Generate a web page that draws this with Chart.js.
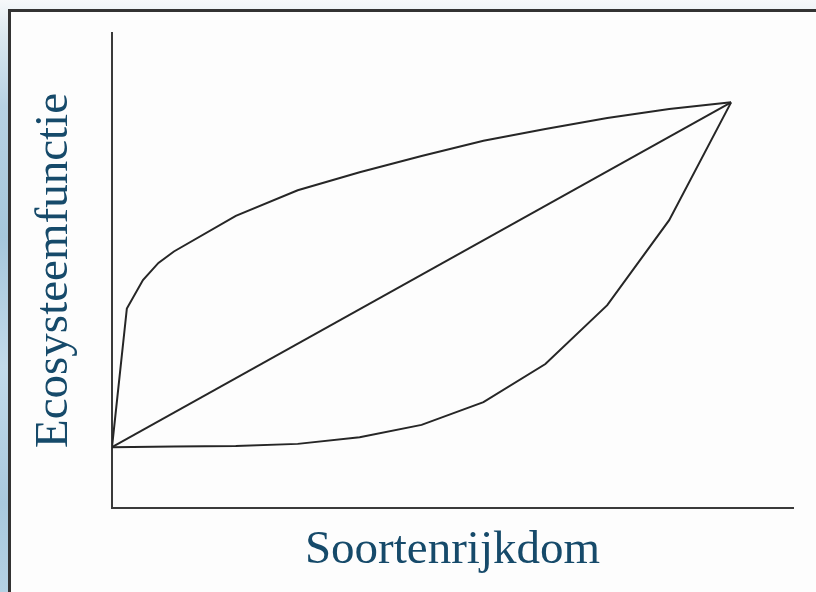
<!DOCTYPE html>
<html>
<head>
<meta charset="utf-8">
<script src="https://cdn.jsdelivr.net/npm/chart.js@4"></script>
<style>
  html, body { margin: 0; padding: 0; width: 816px; height: 592px; overflow: hidden; }
  body { background: linear-gradient(to bottom, #f6f8fa 0%, #dbe8f0 6%, #b7d2e3 18%, #a6c7db 40%, #c2daea 62%, #a9c9de 85%, #b4d1e3 100%); position: relative; }
  #frame { position: absolute; left: 8px; top: 9px; width: 900px; height: 700px; border-left: 3px solid #333; border-top: 3px solid #333; background: #fdfdfd; }
  #wrap { position: absolute; left: 0; top: 0; width: 816px; height: 592px; }
</style>
</head>
<body>
<div id="frame"></div>
<div id="wrap"><canvas id="c" width="816" height="592"></canvas></div>
<script>
// Axis titles
const xTitle = "Soortenrijkdom";
const yTitle = "Ecosysteemfunctie";

// Concave (saturating) curve
const topX = [0, 0.24, 0.5, 0.75, 1, 2, 3, 4, 5, 6, 7, 8, 9, 10];
const topY = [12.8, 42.0, 48.0, 51.6, 54.0, 61.5, 66.9, 70.7, 74.1, 77.3, 79.8, 82.1, 84.0, 85.4];

// Linear curve
const lineX = [0, 10];
const lineY = [12.8, 85.4];

// Convex (accelerating) curve
const lowX = [0, 1, 2, 3, 4, 5, 6, 7, 8, 9, 10];
const lowY = [12.8, 12.95, 13.05, 13.5, 14.9, 17.5, 22.3, 30.3, 42.7, 60.6, 85.4];

const toPts = (xs, ys) => xs.map((x, i) => ({x: x, y: ys[i]}));

const lineStyle = { showLine: true, pointRadius: 0, borderColor: '#262626', borderWidth: 2, tension: 0, fill: false };

const titleFont = { family: 'Liberation Serif', size: 47, weight: 'normal' };

new Chart(document.getElementById('c'), {
  type: 'scatter',
  data: {
    datasets: [
      Object.assign({ data: toPts(topX, topY) }, lineStyle),
      Object.assign({ data: toPts(lineX, lineY) }, lineStyle),
      Object.assign({ data: toPts(lowX, lowY) }, lineStyle)
    ]
  },
  options: {
    responsive: false,
    animation: false,
    layout: { padding: { left: 0, right: 23, top: 33, bottom: 0 } },
    plugins: { legend: { display: false }, tooltip: { enabled: false } },
    scales: {
      x: {
        type: 'linear', min: 0, max: 11,
        grid: { display: false, drawTicks: false },
        ticks: { display: false },
        border: { display: true, color: '#3a3a3a', width: 2 },
        title: { display: true, text: xTitle, font: titleFont, color: '#164a6a', padding: { top: 0, bottom: 13 } },
        afterFit: (s) => { s.height = 84; }
      },
      y: {
        type: 'linear', min: 0, max: 100,
        grid: { display: false, drawTicks: false },
        ticks: { display: false },
        border: { display: true, color: '#3a3a3a', width: 2 },
        title: { display: true, text: yTitle, font: titleFont, color: '#164a6a', padding: { top: 26, bottom: 0 } },
        afterFit: (s) => { s.width = 112; }
      }
    }
  }
});
</script>
</body>
</html>
